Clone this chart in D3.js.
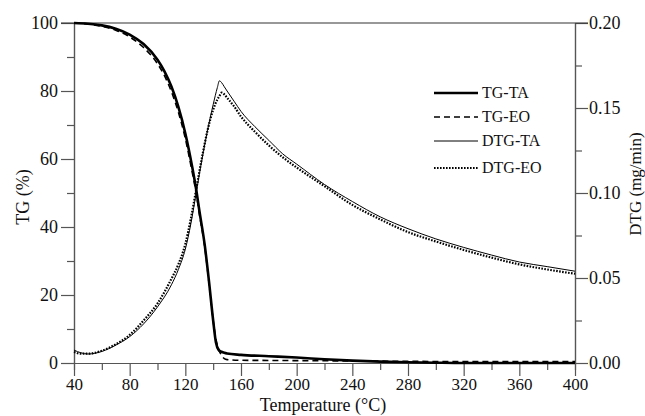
<!DOCTYPE html>
<html>
<head>
<meta charset="utf-8">
<script src="https://cdn.jsdelivr.net/npm/d3@7"></script>
<style>
  body { margin: 0; background: #fff; }
  svg { display: block; }
</style>
</head>
<body>
<svg id="chart" width="645" height="416"></svg>
<script>
// TG curves (% mass), temperature in deg C
let tgTemp = [40, 50, 60, 70, 80, 90, 100, 105, 110, 115, 120, 125, 128, 130, 134, 137, 140, 142, 144, 146, 148, 150,
    160, 180, 200, 220, 240, 260, 280, 300, 320, 360, 400];
let tgTA = [100, 99.8, 99.3, 98.3, 96.6, 93.8, 89.2, 85.8, 81.3, 75.3, 67.5, 57.5, 50.5, 45, 34.5, 24, 12.5, 6, 3.8, 3.3, 3.0, 2.8,
    2.4, 2.0, 1.6, 1.1, 0.7, 0.4, 0.2, 0.08, 0, 0, 0];
let tgEO = [100, 99.7, 99.0, 97.9, 95.9, 92.8, 88.0, 84.5, 79.8, 73.8, 66.0, 56, 49.5, 44, 34, 23.5, 12.5, 7, 4, 2.2, 1.3, 1.0,
    0.8, 0.75, 0.7, 0.65, 0.6, 0.55, 0.5, 0.45, 0.45, 0.4, 0.4];

// DTG curves (mg/min)
let dtgTemp = [40, 45, 50, 60, 70, 80, 90, 100, 110, 115, 120, 124, 128, 132, 136, 140, 143, 144.5, 146, 148, 150, 155,
    160, 170, 180, 190, 200, 220, 240, 260, 280, 300, 320, 340, 360, 380, 400];
let dtgTA = [0.0076, 0.006, 0.0053, 0.0068, 0.0105, 0.0155, 0.023, 0.033, 0.046, 0.055, 0.067, 0.082, 0.101, 0.120, 0.137,
    0.152, 0.162, 0.166, 0.165, 0.1625, 0.160, 0.154, 0.148, 0.139, 0.131, 0.123, 0.117, 0.105, 0.095, 0.086, 0.079,
    0.073, 0.068, 0.0635, 0.0594, 0.0567, 0.054];
let dtgEO = [0.0065, 0.0055, 0.0055, 0.0072, 0.011, 0.0165, 0.025, 0.035, 0.0495, 0.058, 0.070, 0.085, 0.103, 0.121, 0.137,
    0.149, 0.155, 0.157, 0.159, 0.158, 0.156, 0.151, 0.145, 0.136, 0.128, 0.121, 0.115, 0.104, 0.093, 0.0845, 0.077,
    0.0715, 0.0665, 0.062, 0.058, 0.055, 0.0525];

let xTicks = [40, 80, 120, 160, 200, 240, 280, 320, 360, 400];
let tgTicks = [0, 20, 40, 60, 80, 100];
let dtgTicks = [0, 0.05, 0.10, 0.15, 0.20];

let seriesNames = ["TG-TA", "TG-EO", "DTG-TA", "DTG-EO"];

let svg = d3.select("#chart");
let font = "'Liberation Serif', 'Times New Roman', serif";
let axisColor = "#555";
let margin = { left: 74, right: 70, top: 23, bottom: 53 };
let width = +svg.attr("width");
let height = +svg.attr("height");

let xScale = d3.scaleLinear().domain([40, 400]).range([margin.left, width - margin.right]);
let yTG = d3.scaleLinear().domain([0, 100]).range([height - margin.bottom, margin.top]);
let yDTG = d3.scaleLinear().domain([0, 0.2]).range([height - margin.bottom, margin.top]);

// Axes: major ticks labelled, minor ticks unlabelled and shorter
function styleAxis(size) {
    return function(g) {
        g.select(".domain").attr("stroke", axisColor).attr("stroke-width", 1.2);
        g.selectAll(".tick line").attr("stroke", axisColor).attr("stroke-width", 1.2);
        g.selectAll("text").style("font-family", font).style("font-size", size + "px").attr("fill", "#111");
    };
}

let xMinor = d3.range(60, 400, 40);
svg.append("g")
    .attr("transform", "translate(0," + yTG.range()[0] + ")")
    .call(d3.axisBottom(xScale).tickValues(xMinor).tickSize(7).tickFormat(""))
    .call(styleAxis(17));
svg.append("g")
    .attr("transform", "translate(0," + yTG.range()[0] + ")")
    .call(d3.axisBottom(xScale).tickValues(xTicks).tickSize(13).tickSizeOuter(0).tickPadding(2).tickFormat(d3.format("d")))
    .call(styleAxis(17));

let tgMinor = d3.range(10, 100, 20);
svg.append("g")
    .attr("transform", "translate(" + margin.left + ",0)")
    .call(d3.axisLeft(yTG).tickValues(tgMinor).tickSize(7).tickFormat(""))
    .call(styleAxis(18));
svg.append("g")
    .attr("transform", "translate(" + margin.left + ",0)")
    .call(d3.axisLeft(yTG).tickValues(tgTicks).tickSize(13).tickSizeOuter(0).tickPadding(3).tickFormat(d3.format("d")))
    .call(styleAxis(18));

let dtgMinor = [0.025, 0.075, 0.125, 0.175];
svg.append("g")
    .attr("transform", "translate(" + (width - margin.right) + ",0)")
    .call(d3.axisRight(yDTG).tickValues(dtgMinor).tickSize(7).tickFormat(""))
    .call(styleAxis(18));
svg.append("g")
    .attr("transform", "translate(" + (width - margin.right) + ",0)")
    .call(d3.axisRight(yDTG).tickValues(dtgTicks).tickSize(13).tickSizeOuter(0).tickPadding(1).tickFormat(d3.format(".2f")))
    .call(styleAxis(18));

// top frame line
svg.append("line")
    .attr("x1", margin.left - 13).attr("x2", width - margin.right + 13)
    .attr("y1", margin.top).attr("y2", margin.top)
    .attr("stroke", "#333").attr("stroke-width", 1.2);

// Axis titles
svg.append("text")
    .attr("x", 323)
    .attr("y", 411)
    .attr("text-anchor", "middle")
    .style("font-family", font).style("font-size", "18px").attr("fill", "#111")
    .text("Temperature (°C)");
svg.append("text")
    .attr("transform", "translate(29,197) rotate(-90)")
    .attr("text-anchor", "middle")
    .style("font-family", font).style("font-size", "18px").attr("fill", "#111")
    .text("TG (%)");
svg.append("text")
    .attr("transform", "translate(641,184) rotate(-90)")
    .attr("text-anchor", "middle")
    .style("font-family", font).style("font-size", "17px").attr("fill", "#111")
    .text("DTG (mg/min)");

// Curves
let styles = {
    "TG-TA": { width: 2.6, dash: null },
    "TG-EO": { width: 1.6, dash: "6,4" },
    "DTG-TA": { width: 1, dash: null },
    "DTG-EO": { width: 2.2, dash: "1.6,1.4" }
};

function drawCurve(temps, values, yScale, name) {
    let line = d3.line()
        .x(d => xScale(d[0]))
        .y(d => yScale(d[1]))
        .curve(d3.curveMonotoneX);
    svg.append("path")
        .datum(temps.map((t, i) => [t, values[i]]))
        .attr("d", line)
        .attr("fill", "none")
        .attr("stroke", "#000")
        .attr("stroke-width", styles[name].width)
        .style("stroke-dasharray", styles[name].dash);
}

drawCurve(dtgTemp, dtgEO, yDTG, "DTG-EO");
drawCurve(dtgTemp, dtgTA, yDTG, "DTG-TA");
drawCurve(tgTemp, tgEO, yTG, "TG-EO");
drawCurve(tgTemp, tgTA, yTG, "TG-TA");

// Legend
let legendY = [93, 117, 141, 168];
let legend = svg.append("g");
seriesNames.forEach((name, i) => {
    legend.append("line")
        .attr("x1", 434).attr("x2", 478)
        .attr("y1", legendY[i]).attr("y2", legendY[i])
        .attr("stroke", "#000")
        .attr("stroke-width", styles[name].width)
        .style("stroke-dasharray", styles[name].dash);
    legend.append("text")
        .attr("x", 482)
        .attr("y", legendY[i] + 5)
        .style("font-family", font).style("font-size", "16px").attr("fill", "#111")
        .text(name);
});
</script>
</body>
</html>
